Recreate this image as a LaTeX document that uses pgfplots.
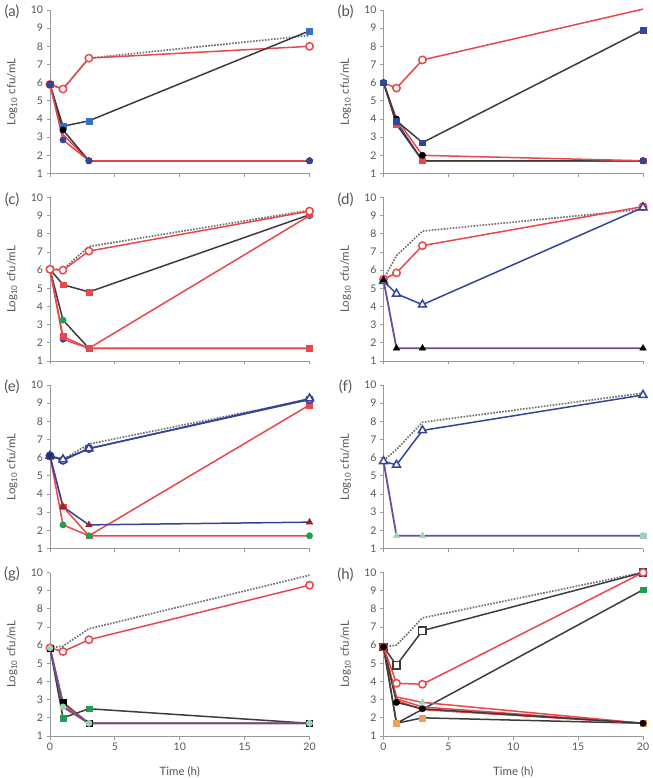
\documentclass[border=0pt]{standalone}
\usepackage{fontspec}
\setmainfont{Lato}
\usepackage{pgfplots}
\pgfplotsset{compat=1.18}
\usepgfplotslibrary{groupplots}
\definecolor{cred}{HTML}{E8474C}
\definecolor{cdark}{HTML}{3C3C3C}
\definecolor{cnavy}{HTML}{34449A}
\definecolor{csteel}{HTML}{3A6FC4}
\definecolor{cdot}{HTML}{707070}
\definecolor{cgreen}{HTML}{1FA050}
\definecolor{cdred}{HTML}{9B2030}
\definecolor{cpurp}{HTML}{6B4C9A}
\definecolor{cteal}{HTML}{9AD3B5}
\definecolor{corange}{HTML}{F0A058}
\definecolor{ctext}{HTML}{555555}
\pgfplotsset{
  dotl/.style={dash pattern=on 1.6pt off 1.4pt, color=cdot, line width=1.7pt, mark=none},
  redl/.style={draw=cred, line width=1.5pt},
  darkl/.style={draw=cdark, line width=1.5pt},
  navyl/.style={draw=cnavy, line width=1.5pt},
  purpl/.style={draw=cpurp, line width=1.8pt},
  fdot/.style={mark=*, mark size=3.2pt, mark options={solid, fill=#1, draw=#1, line width=0.4pt}},
  fsq/.style={mark=square*, mark size=2.9pt, mark options={solid, fill=#1, draw=#1, line width=0.4pt}},
  ftri/.style={mark=triangle*, mark size=3.8pt, mark options={solid, fill=#1, draw=#1, line width=0.4pt}},
  ocirc/.style={mark=*, mark size=3.7pt, mark options={solid, fill=white, draw=#1, line width=1.5pt}},
  osq/.style={mark=square*, mark size=3.7pt, mark options={solid, fill=white, draw=#1, line width=1.5pt}},
  otri/.style={mark=triangle*, mark size=4.6pt, mark options={solid, fill=white, draw=#1, line width=1.5pt}},
}
\tikzset{plab/.style={font=\fontsize{15}{17}\selectfont, text=ctext}}
\newcommand{\plabel}[1]{\node[plab, anchor=center] at ([xshift=-38pt, yshift=-2pt]rel axis cs:0,1) {(#1)};}
\begin{document}
\begin{tikzpicture}
\begin{groupplot}[
  group style={group size=2 by 4, horizontal sep=74pt, vertical sep=24pt, xticklabels at=edge bottom, group name=G},
  width=259.5pt, height=163.5pt, scale only axis,
  xmin=0, xmax=20, ymin=1, ymax=10,
  xtick={0,5,10,15,20}, ytick={1,2,...,10},
  axis x line*=bottom, axis y line*=left,
  axis line style={-, color=gray!80, line width=0.8pt},
  tick style={color=gray!80, line width=0.8pt},
  tick align=outside, major tick length=3.5pt,
  every tick label/.append style={font=\fontsize{10.5}{12}\selectfont, text=ctext},
  /pgf/number format/assume math mode=true,
  ylabel={Log\textsubscript{10} cfu/mL},
  ylabel style={at={(axis description cs:-0.146,0.5)}, anchor=center, font=\fontsize{11.5}{13}\selectfont, text=ctext},
  xlabel style={at={(axis description cs:0.5,-0.22)}, anchor=center, font=\fontsize{11.5}{13}\selectfont, text=ctext},
  clip=false,
]
% (a)
\nextgroupplot
\plabel{a}
\addplot[dotl] coordinates {(0,5.9)(1,5.65)(3,7.35)(20,8.6)};
\addplot[redl, ocirc=cred] coordinates {(0,5.9)(1,5.65)(3,7.35)(20,8.0)};
\addplot[darkl, fsq=csteel] coordinates {(0,5.9)(1,3.6)(3,3.9)(20,8.85)};
\addplot[redl, mark=none] coordinates {(0,5.9)(1,3.15)(3,1.7)(20,1.7)};
\addplot[darkl, fdot=black] coordinates {(0,5.9)(1,3.4)(3,1.7)(20,1.7)};
\addplot[redl, fdot=cnavy] coordinates {(0,5.9)(1,2.85)(3,1.7)(20,1.7)};
% (b)
\nextgroupplot
\plabel{b}
\addplot[navyl, fdot=cnavy] coordinates {(0,6.0)(1,3.85)(3,1.7)(20,1.7)};
\addplot[darkl, fsq=cred] coordinates {(0,6.0)(1,3.7)(3,1.7)(20,1.7)};
\addplot[redl, fdot=black] coordinates {(0,6.0)(1,4.0)(3,2.0)(20,1.7)};
\addplot[darkl, fsq=cnavy] coordinates {(0,6.0)(1,3.9)(3,2.7)(20,8.9)};
\addplot[redl, ocirc=cred, mark indices={2,3}] coordinates {(0,6.0)(1,5.7)(3,7.25)(20,10.05)};
\addplot[only marks, fdot=cnavy] coordinates {(0,6.0)(20,1.7)};
% (c)
\nextgroupplot
\plabel{c}
\addplot[dotl] coordinates {(0,6.05)(1,6.05)(3,7.3)(20,9.3)};
\addplot[darkl, fdot=cgreen] coordinates {(0,6.05)(1,3.25)(3,1.7)(20,1.7)};
\addplot[redl, fdot=cnavy] coordinates {(0,6.05)(1,2.2)(3,1.7)(20,9.0)};
\addplot[redl, fsq=cred] coordinates {(0,6.05)(1,2.35)(3,1.7)(20,1.7)};
\addplot[darkl, fsq=cred] coordinates {(0,6.05)(1,5.2)(3,4.8)(20,9.05)};
\addplot[redl, ocirc=cred] coordinates {(0,6.05)(1,6.0)(3,7.05)(20,9.25)};
% (d)
\nextgroupplot
\plabel{d}
\addplot[dotl] coordinates {(0,5.5)(1,6.8)(3,8.15)(20,9.35)};
\addplot[redl, ocirc=cred] coordinates {(0,5.5)(1,5.85)(3,7.35)(20,9.5)};
\addplot[navyl, otri=cnavy] coordinates {(0,5.4)(1,4.7)(3,4.1)(20,9.45)};
\addplot[purpl, ftri=black] coordinates {(0,5.45)(1,1.7)(3,1.7)(20,1.7)};
% (e)
\nextgroupplot
\plabel{e}
\addplot[dotl] coordinates {(0,6.1)(1,5.9)(3,6.75)(20,9.2)};
\addplot[redl, fsq=cred] coordinates {(0,6.1)(1,3.3)(3,1.7)(20,8.9)};
\addplot[redl, fdot=cgreen] coordinates {(0,6.1)(1,2.3)(3,1.7)(20,1.7)};
\addplot[navyl, ftri=cdred] coordinates {(0,6.1)(1,3.3)(3,2.3)(20,2.45)};
\addplot[navyl, ocirc=cnavy] coordinates {(0,6.1)(1,5.85)(3,6.5)(20,9.2)};
\addplot[navyl, otri=cnavy] coordinates {(0,6.1)(1,5.9)(3,6.5)(20,9.25)};
\addplot[only marks, fdot=cnavy!70!black] coordinates {(0,6.1)};
% (f)
\nextgroupplot
\plabel{f}
\addplot[dotl] coordinates {(0,5.85)(1,6.45)(3,7.95)(20,9.55)};
\addplot[purpl, ftri=cteal] coordinates {(0,5.8)(1,1.7)(3,1.7)(20,1.7)};
\addplot[navyl, otri=cnavy] coordinates {(0,5.8)(1,5.6)(3,7.5)(20,9.45)};
\addplot[only marks, fsq=cteal] coordinates {(20,1.7)};
% (g)
\nextgroupplot[xlabel={Time (h)}]
\plabel{g}
\addplot[dotl] coordinates {(0,5.85)(1,5.95)(3,6.9)(20,9.85)};
\addplot[redl, ocirc=cred] coordinates {(0,5.85)(1,5.65)(3,6.3)(20,9.3)};
\addplot[darkl, fsq=cgreen] coordinates {(0,5.85)(1,2.0)(3,2.5)(20,1.7)};
\addplot[darkl, fsq=black] coordinates {(0,5.85)(1,2.85)(3,1.7)(20,1.7)};
\addplot[redl, mark=none] coordinates {(0,5.85)(1,2.75)(3,1.7)(20,1.7)};
\addplot[purpl, fdot=cteal] coordinates {(0,5.85)(1,2.6)(3,1.7)(20,1.7)};
% (h)
\nextgroupplot[xlabel={Time (h)}]
\plabel{h}
\addplot[dotl] coordinates {(0,5.9)(1,6.0)(3,7.5)(20,10.0)};
\addplot[darkl, fsq=cgreen, mark indices={4}] coordinates {(0,5.9)(1,1.7)(3,2.47)(20,9.05)};
\addplot[darkl, fsq=corange] coordinates {(0,5.9)(1,1.7)(3,2.0)(20,1.7)};
\addplot[redl, ftri=cteal, mark indices={3}] coordinates {(0,5.9)(1,3.15)(3,2.85)(20,1.7)};
\addplot[redl, mark=none] coordinates {(0,5.9)(1,3.05)(3,2.6)(20,1.7)};
\addplot[redl, mark=none] coordinates {(0,5.9)(1,2.95)(3,2.45)(20,1.7)};
\addplot[darkl, fdot=black] coordinates {(0,5.9)(1,2.85)(3,2.5)(20,1.7)};
\addplot[darkl, osq=cdark] coordinates {(0,5.9)(1,4.9)(3,6.8)(20,10.0)};
\addplot[redl, ocirc=cred] coordinates {(0,5.9)(1,3.9)(3,3.85)(20,10.0)};
\addplot[only marks, fdot=black] coordinates {(0,5.9)};
\end{groupplot}
\pgfresetboundingbox
\path[use as bounding box] ([xshift=-50pt, yshift=10pt]G c1r1.north west) rectangle ([xshift=9pt, yshift=-42pt]G c2r4.south east);
\end{tikzpicture}
\end{document}
